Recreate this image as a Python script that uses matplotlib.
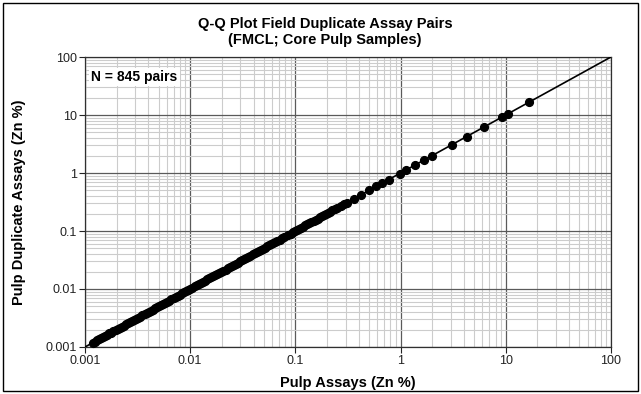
import matplotlib
matplotlib.use("Agg")
import matplotlib.pyplot as plt
from matplotlib.patches import Rectangle
from matplotlib.ticker import LogLocator, FixedLocator, NullFormatter

plt.rcParams['font.family'] = ['Liberation Sans', 'DejaVu Sans']

title = "Q-Q Plot Field Duplicate Assay Pairs\n(FMCL; Core Pulp Samples)"
x_label = "Pulp Assays (Zn %)"
y_label = "Pulp Duplicate Assays (Zn %)"
annotation = "N = 845 pairs"

tick_values = [0.001, 0.01, 0.1, 1, 10, 100]
tick_labels = ["0.001", "0.01", "0.1", "1", "10", "100"]

# Quantiles of original pulp assays (Zn %)
pulp = [0.00120, 0.00125, 0.00130, 0.00136, 0.00142, 0.00148, 0.00155, 0.00162,
        0.00170, 0.00178, 0.00186, 0.00195, 0.00204, 0.00213, 0.00223, 0.00234,
        0.00245, 0.00256, 0.00268, 0.00280, 0.00293, 0.00307, 0.00321, 0.00336,
        0.00352, 0.00368, 0.00385, 0.00403, 0.00422, 0.00441, 0.00462, 0.00483,
        0.00506, 0.00529, 0.00554, 0.00580, 0.00607, 0.00635, 0.00664, 0.00695,
        0.00727, 0.00761, 0.00797, 0.00834, 0.00873, 0.00913, 0.00956, 0.0100,
        0.0105, 0.0110, 0.0115, 0.0120, 0.0126, 0.0132, 0.0138, 0.0144, 0.0151,
        0.0158, 0.0165, 0.0173, 0.0181, 0.0189, 0.0198, 0.0207, 0.0217, 0.0227,
        0.0238, 0.0249, 0.0260, 0.0272, 0.0285, 0.0298, 0.0312, 0.0327, 0.0342,
        0.0358, 0.0374, 0.0392, 0.0410, 0.0429, 0.0449, 0.0470, 0.0492, 0.0515,
        0.0539, 0.0564, 0.0590, 0.0617, 0.0646, 0.0676, 0.0708, 0.0741, 0.0776,
        0.0860, 0.0900, 0.0942, 0.0986, 0.103, 0.108, 0.113, 0.118, 0.124, 0.130,
        0.136, 0.142, 0.149, 0.156, 0.163, 0.171, 0.179, 0.187, 0.196, 0.205,
        0.215, 0.225, 0.236, 0.247, 0.27, 0.29, 0.31, 0.36, 0.42, 0.50, 0.59,
        0.67, 0.77, 0.98, 1.12, 1.37, 1.67, 1.97, 3.06, 4.25, 6.2, 9.2, 10.6, 16.8]

# Quantiles of duplicate pulp assays (Zn %)
duplicate = [0.00118, 0.00124, 0.00131, 0.00137, 0.00141, 0.00149, 0.00157, 0.00163,
             0.00171, 0.00177, 0.00188, 0.00197, 0.00206, 0.00212, 0.00221, 0.00233,
             0.00247, 0.00258, 0.00266, 0.00279, 0.00295, 0.00309, 0.00320, 0.00335,
             0.00350, 0.00370, 0.00388, 0.00405, 0.00420, 0.00440, 0.00465, 0.00486,
             0.00508, 0.00531, 0.00555, 0.00578, 0.00603, 0.00632, 0.00662, 0.00697,
             0.00730, 0.00765, 0.00800, 0.00838, 0.00876, 0.00915, 0.00960, 0.0101,
             0.0106, 0.0111, 0.0116, 0.0121, 0.0127, 0.0133, 0.0139, 0.0146, 0.0153,
             0.0159, 0.0166, 0.0172, 0.0180, 0.0188, 0.0197, 0.0206, 0.0216, 0.0226,
             0.0237, 0.0248, 0.0259, 0.0271, 0.0284, 0.0299, 0.0313, 0.0329, 0.0344,
             0.0360, 0.0376, 0.0394, 0.0412, 0.0432, 0.0452, 0.0474, 0.0496, 0.0519,
             0.0543, 0.0568, 0.0595, 0.0622, 0.0651, 0.0680, 0.0711, 0.0745, 0.0780,
             0.0865, 0.0905, 0.0946, 0.0990, 0.104, 0.109, 0.114, 0.119, 0.125, 0.131,
             0.137, 0.143, 0.150, 0.157, 0.164, 0.172, 0.180, 0.188, 0.197, 0.206,
             0.216, 0.226, 0.237, 0.248, 0.27, 0.29, 0.31, 0.36, 0.42, 0.50, 0.59,
             0.67, 0.77, 0.98, 1.12, 1.37, 1.67, 1.97, 3.06, 4.25, 6.2, 9.2, 10.6, 16.8]

line_ends = [0.001, 100]

fig = plt.figure(figsize=(6.41, 3.94), dpi=100)
ax = fig.add_axes([0.1326, 0.1193, 0.8205, 0.736])

ax.set_xscale('log')
ax.set_yscale('log')
ax.set_xlim(0.001, 100)
ax.set_ylim(0.001, 100)

ax.xaxis.set_major_locator(FixedLocator(tick_values))
ax.yaxis.set_major_locator(FixedLocator(tick_values))
ax.set_xticklabels(tick_labels)
ax.set_yticklabels(tick_labels)
ax.xaxis.set_minor_locator(LogLocator(base=10, subs=range(2, 10), numticks=20))
ax.yaxis.set_minor_locator(LogLocator(base=10, subs=range(2, 10), numticks=20))
ax.xaxis.set_minor_formatter(NullFormatter())
ax.yaxis.set_minor_formatter(NullFormatter())

ax.grid(which='minor', color='#cccccc', linewidth=0.8)
ax.grid(which='major', color='#5a5a5a', linewidth=0.9)
ax.set_axisbelow(True)

ax.tick_params(axis='both', which='major', direction='out', length=4, width=0.8,
               labelsize=9, colors='#222222', pad=2)
ax.tick_params(axis='both', which='minor', length=0)
for s in ax.spines.values():
    s.set_color('#303030')
    s.set_linewidth(0.9)

ax.plot(line_ends, line_ends, color='black', linewidth=1.2, zorder=3)
ax.plot(pulp, duplicate, linestyle='none', marker='o', markersize=5.6,
        markerfacecolor='black', markeredgecolor='black', zorder=4, clip_on=False)

ax.text(0.012, 0.955, annotation, transform=ax.transAxes, fontsize=10,
        fontweight='bold', va='top', ha='left',
        bbox=dict(facecolor='white', edgecolor='none', pad=1.5))

fig.text(0.507, 0.958, title, fontsize=10.5, fontweight='bold', ha='center',
         va='top', linespacing=1.2)
ax.set_xlabel(x_label, fontsize=10.5, fontweight='bold', labelpad=6)
ax.set_ylabel(y_label, fontsize=10.5, fontweight='bold', labelpad=14)

fig.patches.append(Rectangle((0.005, 0.008), 0.99, 0.984, transform=fig.transFigure,
                             fill=False, edgecolor='black', linewidth=1.0))

fig.savefig("out.png", dpi=100)
